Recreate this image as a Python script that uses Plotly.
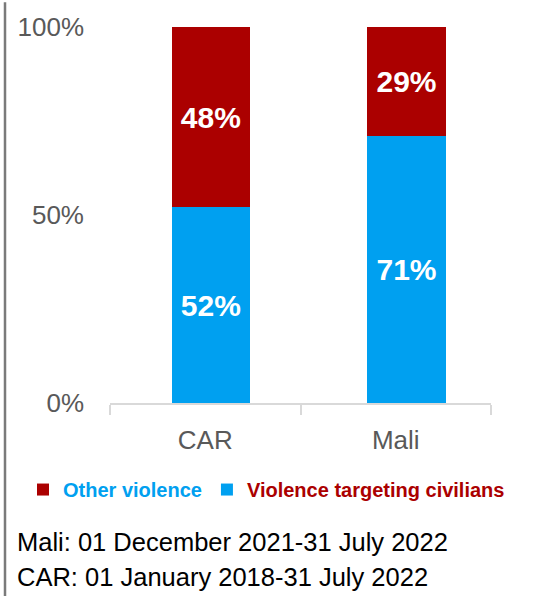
import plotly.graph_objects as go

categories = ["CAR", "Mali"]
civilians = [52, 71]
other = [48, 29]
tick_vals = [0, 50, 100]
tick_text = ["0%", "50%", "100%"]
notes = ["Mali: 01 December 2021-31 July 2022", "CAR: 01 January 2018-31 July 2022"]

RED = "#AB0000"
BLUE = "#00A0F0"
FONT = "Liberation Sans, Arial, sans-serif"

W, H = 537, 597
ML, MR, MT, MB = 110, 46, 25, 194
PW = W - ML - MR
PH = H - MT - MB

# bar placement (style): start offsets and width in category units
BAR_OFFSET = [-0.176, -0.149]
BAR_WIDTH = 0.411

label_font = dict(family=FONT, size=30, color="white", weight="bold")

fig = go.Figure()
fig.add_trace(go.Bar(
    x=categories, y=civilians,
    name=f"<span style='color:{RED}'><b>Violence targeting civilians</b></span>",
    marker=dict(color=BLUE, line=dict(width=0)),
    offset=BAR_OFFSET, width=BAR_WIDTH,
    text=[f"{v}%" for v in civilians], textposition="inside", insidetextanchor="middle",
    textfont=label_font, textangle=0,
))
fig.add_trace(go.Bar(
    x=categories, y=other,
    name=f"<span style='color:{BLUE}'><b>Other violence</b></span>",
    marker=dict(color=RED, line=dict(width=0)),
    offset=BAR_OFFSET, width=BAR_WIDTH,
    text=[f"{v}%" for v in other], textposition="inside", insidetextanchor="middle",
    textfont=label_font, textangle=0,
))

fig.update_layout(
    width=W, height=H,
    margin=dict(l=ML, r=MR, t=MT, b=MB, pad=0),
    barmode="stack",
    plot_bgcolor="white", paper_bgcolor="white",
    font=dict(family=FONT, size=26, color="#595959"),
    showlegend=True,
    legend=dict(orientation="h", x=(23 - ML) / PW, xanchor="left", y=(H - MB - 490) / PH,
                yanchor="middle", traceorder="reversed",
                font=dict(family=FONT, size=20), itemwidth=30, tracegroupgap=0,
                bgcolor="rgba(0,0,0,0)"),
    xaxis=dict(showline=True, linecolor="#D9D9D9", linewidth=1.5, range=[-0.5, 1.5],
               ticks="outside", tickson="boundaries", ticklen=10, tickcolor="#D9D9D9", tickwidth=1.5,
               ticklabelstandoff=13,
               tickfont=dict(size=26, color="#595959"), showgrid=False),
    yaxis=dict(range=[0, 100], tickvals=tick_vals, ticktext=tick_text, showgrid=False,
               showline=False, zeroline=False, ticks="", ticklabelstandoff=25,
               tickfont=dict(size=26, color="#595959")),
)

# left frame line
fig.add_shape(type="line", xref="paper", yref="paper",
              x0=(5 - ML) / PW, x1=(5 - ML) / PW,
              y0=-(MB) / PH, y1=1 + MT / PH,
              line=dict(color="#7A7A7A", width=2.5))

for i, t in enumerate(notes):
    ypix = 543 + i * 35
    fig.add_annotation(text=t, xref="paper", yref="paper", x=(15 - ML) / PW, xanchor="left",
                       y=(H - MB - ypix) / PH, yanchor="middle", showarrow=False,
                       font=dict(family=FONT, size=25.5, color="black"))

fig.write_html("out.html")
